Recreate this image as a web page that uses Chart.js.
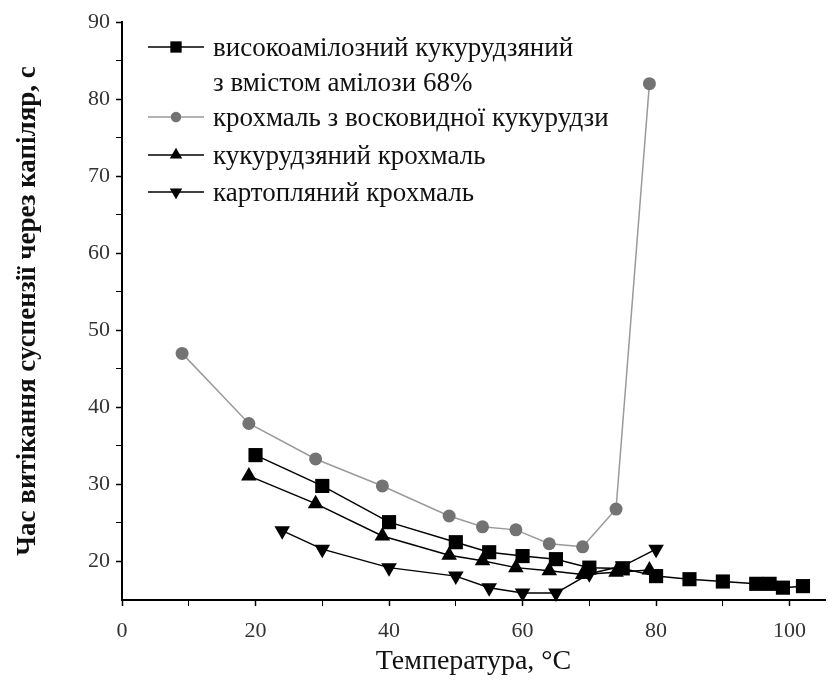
<!DOCTYPE html>
<html>
<head>
<meta charset="utf-8">
<script src="https://cdn.jsdelivr.net/npm/chart.js@4.4.0/dist/chart.umd.min.js"></script>
<style>
  html, body { margin: 0; padding: 0; background: #fff; }
</style>
</head>
<body>
<canvas id="viscChart" width="835" height="683"></canvas>
<script>
// legend names (first one wraps over two lines)
const seriesNames = [
    ["високоамілозний кукурудзяний", "з вмістом амілози 68%"],
    ["крохмаль з восковидної кукурудзи"],
    ["кукурудзяний крохмаль"],
    ["картопляний крохмаль"]
];

// temperature, °C  /  flow time, s
const highAmyloseTemp = [20, 30, 40, 50, 55, 60, 65, 70, 75, 80, 85, 90, 95, 97, 99, 102];
const highAmyloseTime = [33.8, 29.8, 25.1, 22.5, 21.2, 20.7, 20.3, 19.2, 19.1, 18.1, 17.7, 17.4, 17.1, 17.1, 16.6, 16.8];

const waxyTemp = [9, 19, 29, 39, 49, 54, 59, 64, 69, 74, 79];
const waxyTime = [47, 37.9, 33.3, 29.8, 25.9, 24.5, 24.1, 22.3, 21.9, 26.8, 82];

const cornTemp = [19, 29, 39, 49, 54, 59, 64, 69, 74, 79];
const cornTime = [31.1, 27.5, 23.3, 20.8, 20.1, 19.2, 18.8, 18.3, 18.6, 18.9];

const potatoTemp = [24, 30, 40, 50, 55, 60, 65, 70, 75, 80];
const potatoTime = [24.0, 21.6, 19.2, 18.1, 16.6, 15.9, 15.9, 18.4, 19.4, 21.6];

const xTickLabels = [0, 20, 40, 60, 80, 100];
const yTickLabels = [20, 30, 40, 50, 60, 70, 80, 90];

function toPoints(xs, ys) {
    return xs.map((x, i) => ({ x: x, y: ys[i] }));
}

function drawMarker(ctx, style, r, x, y, color) {
    ctx.fillStyle = color;
    ctx.beginPath();
    if (style === "rect") {
        const s = r * Math.SQRT1_2;
        ctx.rect(x - s, y - s, 2 * s, 2 * s);
    } else if (style === "circle") {
        ctx.arc(x, y, r, 0, Math.PI * 2);
    } else {
        const dir = style === "triangleDown" ? -1 : 1;
        ctx.moveTo(x, y - dir * r);
        ctx.lineTo(x + Math.sin(2 * Math.PI / 3) * r, y + dir * r / 2);
        ctx.lineTo(x - Math.sin(2 * Math.PI / 3) * r, y + dir * r / 2);
        ctx.closePath();
    }
    ctx.fill();
}

const markerKinds = ["rect", "circle", "triangle", "triangleDown"];

const legendPlugin = {
    id: "boxLegend",
    afterDraw(chart) {
        const ctx = chart.ctx;
        const rows = [47, 117, 155, 192];
        ctx.save();
        ctx.font = '27px "Liberation Serif"';
        ctx.textBaseline = "middle";
        chart.data.datasets.forEach((ds, i) => {
            const y = rows[i];
            ctx.strokeStyle = ds.borderColor;
            ctx.lineWidth = 1.5;
            ctx.beginPath();
            ctx.moveTo(148, y);
            ctx.lineTo(204, y);
            ctx.stroke();
            drawMarker(ctx, markerKinds[i], ds.pointRadius * 0.8, 176, y, ds.pointBackgroundColor);
            ctx.fillStyle = "#111";
            seriesNames[i].forEach((t, k) => ctx.fillText(t, 213, y + 2 + k * 35));
        });
        ctx.restore();
    }
};

new Chart(document.getElementById("viscChart"), {
    type: "line",
    data: {
        datasets: [{
            label: seriesNames[0].join(" "),
            data: toPoints(highAmyloseTemp, highAmyloseTime),
            borderColor: "#000",
            borderWidth: 1.5,
            pointStyle: "rect",
            pointRadius: 10,
            pointBackgroundColor: "#000",
            pointBorderWidth: 0,
            clip: false
        }, {
            label: seriesNames[1][0],
            data: toPoints(waxyTemp, waxyTime),
            borderColor: "#9a9a9a",
            borderWidth: 1.5,
            pointStyle: "circle",
            pointRadius: 6.5,
            pointBackgroundColor: "#737373",
            pointBorderWidth: 0,
            clip: false
        }, {
            label: seriesNames[2][0],
            data: toPoints(cornTemp, cornTime),
            borderColor: "#000",
            borderWidth: 1.5,
            pointStyle: "triangle",
            pointRadius: 9,
            pointBackgroundColor: "#000",
            pointBorderWidth: 0,
            clip: false
        }, {
            label: seriesNames[3][0],
            data: toPoints(potatoTemp, potatoTime),
            borderColor: "#000",
            borderWidth: 1.5,
            pointStyle: "triangle",
            pointRotation: 180,
            pointRadius: 9,
            pointBackgroundColor: "#000",
            pointBorderWidth: 0,
            clip: false
        }]
    },
    options: {
        responsive: false,
        animation: false,
        devicePixelRatio: 1,
        layout: { padding: { top: 22, right: 0, bottom: 0, left: 0 } },
        plugins: {
            legend: { display: false },
            tooltip: { enabled: false }
        },
        elements: { line: { tension: 0 } },
        scales: {
            x: {
                type: "linear",
                min: 0,
                max: 105.3,
                afterFit: s => { s.height = 83; },
                border: { color: "#000", width: 2 },
                grid: {
                    drawOnChartArea: false,
                    tickLength: 6,
                    tickColor: "#000",
                    tickWidth: c => (xTickLabels.includes(c.tick.value) ? 1.5 : 1)
                },
                ticks: {
                    stepSize: 10,
                    includeBounds: false,
                    autoSkip: false,
                    maxRotation: 0,
                    padding: 12,
                    color: "#333",
                    font: { family: "Liberation Serif", size: 22 },
                    callback: v => (xTickLabels.includes(v) ? v : "")
                },
                title: {
                    display: true,
                    text: "Температура, °C",
                    color: "#111",
                    font: { family: "Liberation Serif", size: 28 },
                    padding: { top: 8, bottom: 5 }
                }
            },
            y: {
                min: 15,
                max: 90,
                afterFit: s => { s.width = 122; },
                border: { color: "#000", width: 2 },
                grid: {
                    drawOnChartArea: false,
                    tickLength: 6,
                    tickColor: c => (c.tick.value === 15 ? "rgba(0,0,0,0)" : "#000"),
                    tickWidth: c => (yTickLabels.includes(c.tick.value) ? 1.5 : 1)
                },
                ticks: {
                    stepSize: 5,
                    autoSkip: false,
                    padding: 6,
                    color: "#333",
                    font: { family: "Liberation Serif", size: 22 },
                    callback: v => (yTickLabels.includes(v) ? v : "")
                },
                title: {
                    display: true,
                    text: "Час витікання суспензії через капіляр, с",
                    color: "#111",
                    font: { family: "Liberation Serif", size: 27, weight: "bold" },
                    padding: { top: 12, bottom: 0 }
                }
            }
        }
    },
    plugins: [legendPlugin]
});
</script>
</body>
</html>
